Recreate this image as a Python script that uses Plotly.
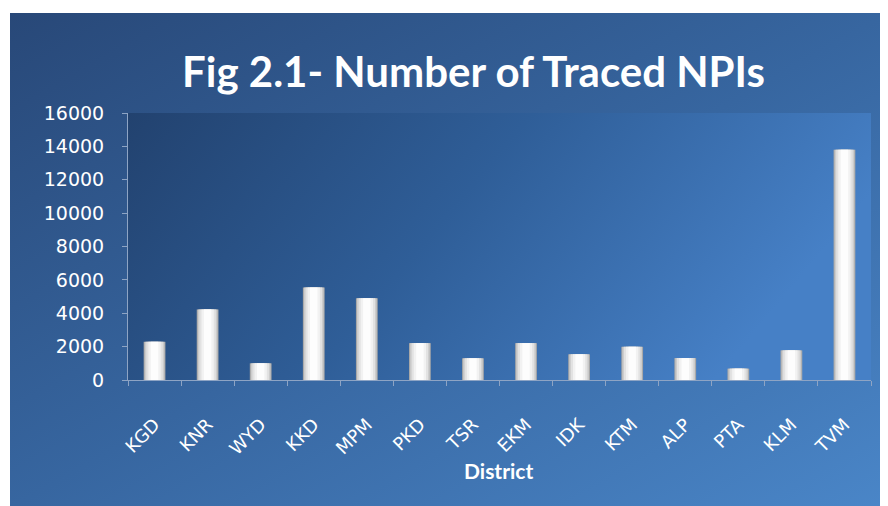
import base64
import plotly.graph_objects as go

# ---- data ----
districts = ["KGD", "KNR", "WYD", "KKD", "MPM", "PKD", "TSR", "EKM", "IDK",
             "KTM", "ALP", "PTA", "KLM", "TVM"]
traced_npis = [2290, 4230, 1000, 5540, 4900, 2210, 1300, 2210, 1540,
               1990, 1315, 680, 1775, 13800]
y_ticks = [0, 2000, 4000, 6000, 8000, 10000, 12000, 14000, 16000]

OFF = 8  # page body margin
W, H = 888 - OFF, 506 - OFF
# plot area in page pixels: x 128..871, y 113..380
L = 128 - OFF
T = 113 - OFF
R = W - (871 - OFF)
B = H - (380 - OFF)
PW, PH = W - L - R, H - T - B


def px_x(px):  # page px -> paper
    return (px - OFF - L) / PW


def px_y(py):
    return (H - B - (py - OFF)) / PH


def svg_uri(svg):
    return "data:image/svg+xml;base64," + base64.b64encode(svg.encode()).decode()


panel_svg = """<svg xmlns='http://www.w3.org/2000/svg' width='878' height='493' preserveAspectRatio='none' viewBox='0 0 878 493'>
<defs><linearGradient id='g' x1='0' y1='0' x2='1' y2='1'>
<stop offset='0' stop-color='#284878'/><stop offset='0.5' stop-color='#3766a0'/><stop offset='1' stop-color='#4a86c8'/>
</linearGradient></defs><rect width='878' height='493' fill='url(#g)'/></svg>"""

plot_svg = """<svg xmlns='http://www.w3.org/2000/svg' width='743' height='267' preserveAspectRatio='none' viewBox='0 0 743 267'>
<defs><linearGradient id='p' x1='0' y1='0' x2='1' y2='0.3'>
<stop offset='0' stop-color='#22426f'/><stop offset='0.5' stop-color='#2f5e98'/><stop offset='1' stop-color='#4680c6'/>
</linearGradient></defs><rect width='743' height='267' fill='url(#p)'/></svg>"""

fig = go.Figure()

# layered bars to imitate the cylinder-like gradient
layers = [(0.41, "#a8a8a8"), (0.37, "#cccccc"), (0.31, "#e2e2e2"),
          (0.23, "#f2f2f2"), (0.14, "#fdfdfd")]
for wdt, col in layers:
    fig.add_trace(go.Bar(
        x=districts, y=traced_npis, width=wdt,
        marker=dict(color=col, line=dict(width=0)),
        hoverinfo="skip" if wdt != 0.41 else None,
        showlegend=False,
    ))

axis_col = "#8ea4c4"
fig.update_layout(
    width=W, height=H,
    margin=dict(l=L, r=R, t=T, b=B),
    paper_bgcolor="white",
    plot_bgcolor="rgba(0,0,0,0)",
    barmode="overlay",
    showlegend=False,
    images=[
        dict(source=svg_uri(panel_svg), xref="paper", yref="paper",
             x=px_x(10), y=px_y(13), sizex=880 / PW, sizey=495 / PH,
             xanchor="left", yanchor="top", sizing="stretch", layer="below"),
        dict(source=svg_uri(plot_svg), xref="paper", yref="paper",
             x=0, y=1, sizex=1, sizey=1,
             xanchor="left", yanchor="top", sizing="stretch", layer="below"),
    ],
    annotations=[
        dict(text="<b>Fig 2.1- Number of Traced NPIs</b>", xref="paper", yref="paper",
             x=px_x(473), y=px_y(71), xanchor="center", yanchor="middle",
             showarrow=False, font=dict(family="Lato", size=42, color="white")),
        dict(text="<b>District</b>", xref="paper", yref="paper",
             x=px_x(498), y=px_y(470), xanchor="center", yanchor="middle",
             showarrow=False, font=dict(family="Lato", size=21, color="white")),
    ],
    xaxis=dict(
        type="category", tickangle=-45,
        tickfont=dict(family="DejaVu Sans", size=18, color="white"),
        showline=True, linecolor=axis_col, linewidth=1,
        ticks="outside", tickson="boundaries", ticklen=5, tickcolor=axis_col,
        showgrid=False, zeroline=False, ticklabelstandoff=26,
        range=[-0.5, len(districts) - 0.5],
    ),
    yaxis=dict(
        range=[0, 16000], tickvals=y_ticks, tickformat="d",
        tickfont=dict(family="DejaVu Sans", size=19, color="white"),
        showline=True, linecolor=axis_col, linewidth=1,
        ticks="outside", ticklen=5, tickcolor=axis_col,
        showgrid=False, zeroline=False, ticklabelstandoff=14,
    ),
)

fig.write_html("out.html")
